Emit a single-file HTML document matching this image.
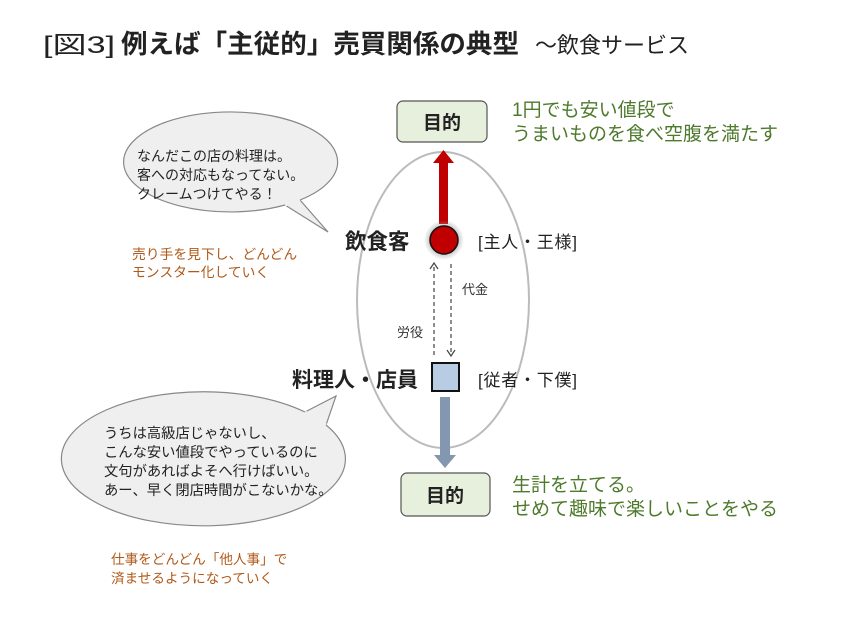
<!DOCTYPE html>
<html><head><meta charset="utf-8"><style>
html,body{margin:0;padding:0;background:#fff;}
svg{display:block;font-family:"Liberation Sans","Noto Sans CJK JP",sans-serif;}
</style></head><body>
<svg width="860" height="629" viewBox="0 0 860 629" xmlns="http://www.w3.org/2000/svg">
<defs>
<radialGradient id="glow"><stop offset="0.6" stop-color="#999" stop-opacity="0.7"/><stop offset="1" stop-color="#999" stop-opacity="0"/></radialGradient>
</defs>
<text x="43" y="53" font-size="24" fill="#222" textLength="72" lengthAdjust="spacingAndGlyphs">[図3]</text>
<text x="121" y="53" font-size="26" font-weight="bold" fill="#222" textLength="398" lengthAdjust="spacingAndGlyphs">例えば「主従的」売買関係の典型</text>
<text x="535" y="53" font-size="22" fill="#222">～飲食サービス</text>

<!-- top bubble -->
<path d="M300,200 A107,50 0 1 0 285,205 L328,232 Z" fill="#efefef" stroke="#888" stroke-width="1.2"/>
<path d="M300,200 L285,205" stroke="#efefef" stroke-width="3"/>
<text font-size="14" fill="#222"><tspan x="137" y="161">なんだこの店の料理は。</tspan><tspan x="137" y="180">客への対応もなってない。</tspan><tspan x="137" y="199">クレームつけてやる！</tspan></text>
<text font-size="13.8" fill="#b05a1a"><tspan x="132" y="259">売り手を見下し、どんどん</tspan><tspan x="132" y="277">モンスター化していく</tspan></text>

<!-- bottom bubble -->
<path d="M305,412 A142,67 0 1 0 326,425 L336,396 Z" fill="#efefef" stroke="#888" stroke-width="1.2"/>
<path d="M305,412 L326,425" stroke="#efefef" stroke-width="3"/>
<text font-size="14.3" fill="#222"><tspan x="104" y="438">うちは高級店じゃないし、</tspan><tspan x="104" y="457">こんな安い値段でやっているのに</tspan><tspan x="104" y="476">文句があればよそへ行けばいい。</tspan><tspan x="104" y="495">あー、早く閉店時間がこないかな。</tspan></text>
<text font-size="13.6" fill="#b05a1a"><tspan x="111" y="564">仕事をどんどん「他人事」で</tspan><tspan x="111" y="583">済ませるようになっていく</tspan></text>

<!-- main ellipse -->
<ellipse cx="443" cy="300" rx="86" ry="148" fill="none" stroke="#bbb" stroke-width="2"/>

<!-- top goal -->
<rect x="397" y="101" width="90" height="41" rx="6" fill="#e6f0dc" stroke="#555" stroke-width="1.2"/>
<text x="442" y="129" font-size="19" font-weight="bold" text-anchor="middle" fill="#222">目的</text>
<text font-size="19" fill="#4e7a2c"><tspan x="512" y="116">1円でも安い値段で</tspan><tspan x="512" y="140">うまいものを食べ空腹を満たす</tspan></text>

<!-- red arrow -->
<rect x="439" y="162" width="9" height="62" fill="#c00000"/>
<polygon points="433,163 443.5,150 454,163" fill="#c00000"/>
<circle cx="444" cy="240" r="20" fill="url(#glow)"/>
<circle cx="444" cy="240" r="14" fill="#c00000" stroke="#111" stroke-width="1.5"/>
<text x="345" y="249" font-size="21.5" font-weight="bold" fill="#222">飲食客</text>
<text x="478" y="248" font-size="17" fill="#222" textLength="99">[主人・王様]</text>

<!-- dashed -->
<line x1="434" y1="355" x2="434" y2="265" stroke="#444" stroke-width="1.2" stroke-dasharray="4,3"/>
<polyline points="430,269 434,263 438,269" fill="none" stroke="#444" stroke-width="1.2"/>
<line x1="451" y1="264" x2="451" y2="354" stroke="#444" stroke-width="1.2" stroke-dasharray="4,3"/>
<polyline points="447,350 451,356 455,350" fill="none" stroke="#444" stroke-width="1.2"/>
<text x="462" y="294" font-size="13" fill="#333">代金</text>
<text x="397" y="337" font-size="13" fill="#333">労役</text>

<!-- square -->
<rect x="432" y="363" width="27" height="28" fill="#b8cce4" stroke="#111" stroke-width="2"/>
<text x="292" y="387" font-size="21" font-weight="bold" fill="#222" textLength="126">料理人・店員</text>
<text x="478" y="386" font-size="17" fill="#222" textLength="99">[従者・下僕]</text>

<!-- blue arrow -->
<rect x="440" y="397" width="10" height="58" fill="#8497b0"/>
<polygon points="434,455 445,468 456,455" fill="#8497b0"/>

<!-- bottom goal -->
<rect x="401" y="473" width="89" height="43" rx="6" fill="#e6f0dc" stroke="#555" stroke-width="1.2"/>
<text x="445" y="502" font-size="19" font-weight="bold" text-anchor="middle" fill="#222">目的</text>
<text font-size="19" fill="#4e7a2c"><tspan x="512" y="491">生計を立てる。</tspan><tspan x="512" y="515">せめて趣味で楽しいことをやる</tspan></text>
</svg>
</body></html>
